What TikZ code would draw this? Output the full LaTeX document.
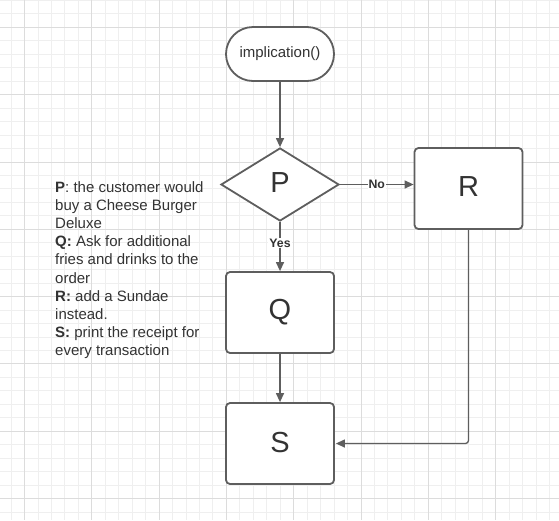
\documentclass[tikz,border=0pt]{standalone}
\usepackage{fontspec}
\setmainfont{Liberation Sans}
\usetikzlibrary{shapes.geometric,arrows.meta}
\definecolor{stroke}{HTML}{5E5E5E}
\definecolor{txt}{HTML}{333333}
\definecolor{gridminor}{HTML}{EFEFEF}
\definecolor{gridmajor}{HTML}{DCDCDC}
\tikzset{
  boxnode/.style={draw=stroke, line width=1.8pt, rounded corners=4pt, fill=white,
    minimum width=108pt, minimum height=81pt, inner sep=0pt, text=txt, font=\fontsize{29}{31}\selectfont},
  termnode/.style={draw=stroke, line width=1.8pt, rounded corners=27pt, fill=white,
    minimum width=108pt, minimum height=54pt, inner sep=0pt, text=txt, font=\fontsize{15}{17}\selectfont},
  decnode/.style={draw=stroke, line width=1.8pt, diamond, aspect=1.62, fill=white,
    minimum width=118pt, minimum height=73pt, inner sep=0pt, text=txt, font=\fontsize{29}{31}\selectfont},
  conn/.style={draw=stroke, line width=1.3pt, -{Triangle[length=9pt,width=8pt]}},
  lbl/.style={fill=white, inner sep=1pt, text=txt, font=\bfseries\fontsize{12.3}{13}\selectfont},
  minorline/.style={draw=gridminor, line width=0.7pt},
  majorline/.style={draw=gridmajor, line width=0.8pt},
}
\begin{document}
\begin{tikzpicture}[x=1pt, y=-1pt]
\useasboundingbox (0,0) rectangle (559,520);
\fill[white] (0,0) rectangle (559,520);
% grid
\foreach \n in {0,...,41} {\draw[minorline] ({10.94+13.46*\n},0) -- ({10.94+13.46*\n},520);}
\foreach \n in {0,...,38} {\draw[minorline] (0,{0.38+13.46*\n}) -- (559,{0.38+13.46*\n});}
\foreach \m in {0,...,7} {\draw[majorline] ({24.4+67.3*\m},0) -- ({24.4+67.3*\m},520);}
\foreach \m in {0,...,7} {\draw[majorline] (0,{27.3+67.3*\m}) -- (559,{27.3+67.3*\m});}
% nodes
\node[termnode] (start) at (280,54) {\raisebox{1pt}{implication()}};
\node[decnode] (P) at (280,184.5) {\raisebox{3pt}{P}};
\node[boxnode] (R) at (468.5,188.5) {\raisebox{3pt}{R}};
\node[boxnode] (Q) at (280,312.5) {\raisebox{3pt}{Q}};
\node[boxnode] (S) at (280,443.5) {\raisebox{3pt}{S}};
\coordinate (corner) at (R.south |- S.east);
% connectors
\draw[conn] (start.south) -- (P.north);
\draw[conn] (P.east) -- node[lbl, pos=0.5] (no) {No} (R.west |- P.east);
\draw[conn] (P.south) -- node[lbl, pos=0.43] (yes) {Yes} (Q.north);
\draw[conn] (Q.south) -- (S.north);
\draw[conn, rounded corners=3pt] (R.south) -- (corner) -- ([xshift=1pt]S.east);
% legend
\node[anchor=north west, inner sep=0pt, align=left, text=txt,
      font=\fontsize{15}{18.1}\selectfont] (legend) at (55,181.5) {%
\textbf{P}: the customer would\\
buy a Cheese Burger\\
Deluxe\\
\textbf{Q:} Ask for additional\\
fries and drinks to the\\
order\\
\textbf{R:} add a Sundae\\
instead.\\
\textbf{S:} print the receipt for\\
every transaction};
\end{tikzpicture}
\end{document}
